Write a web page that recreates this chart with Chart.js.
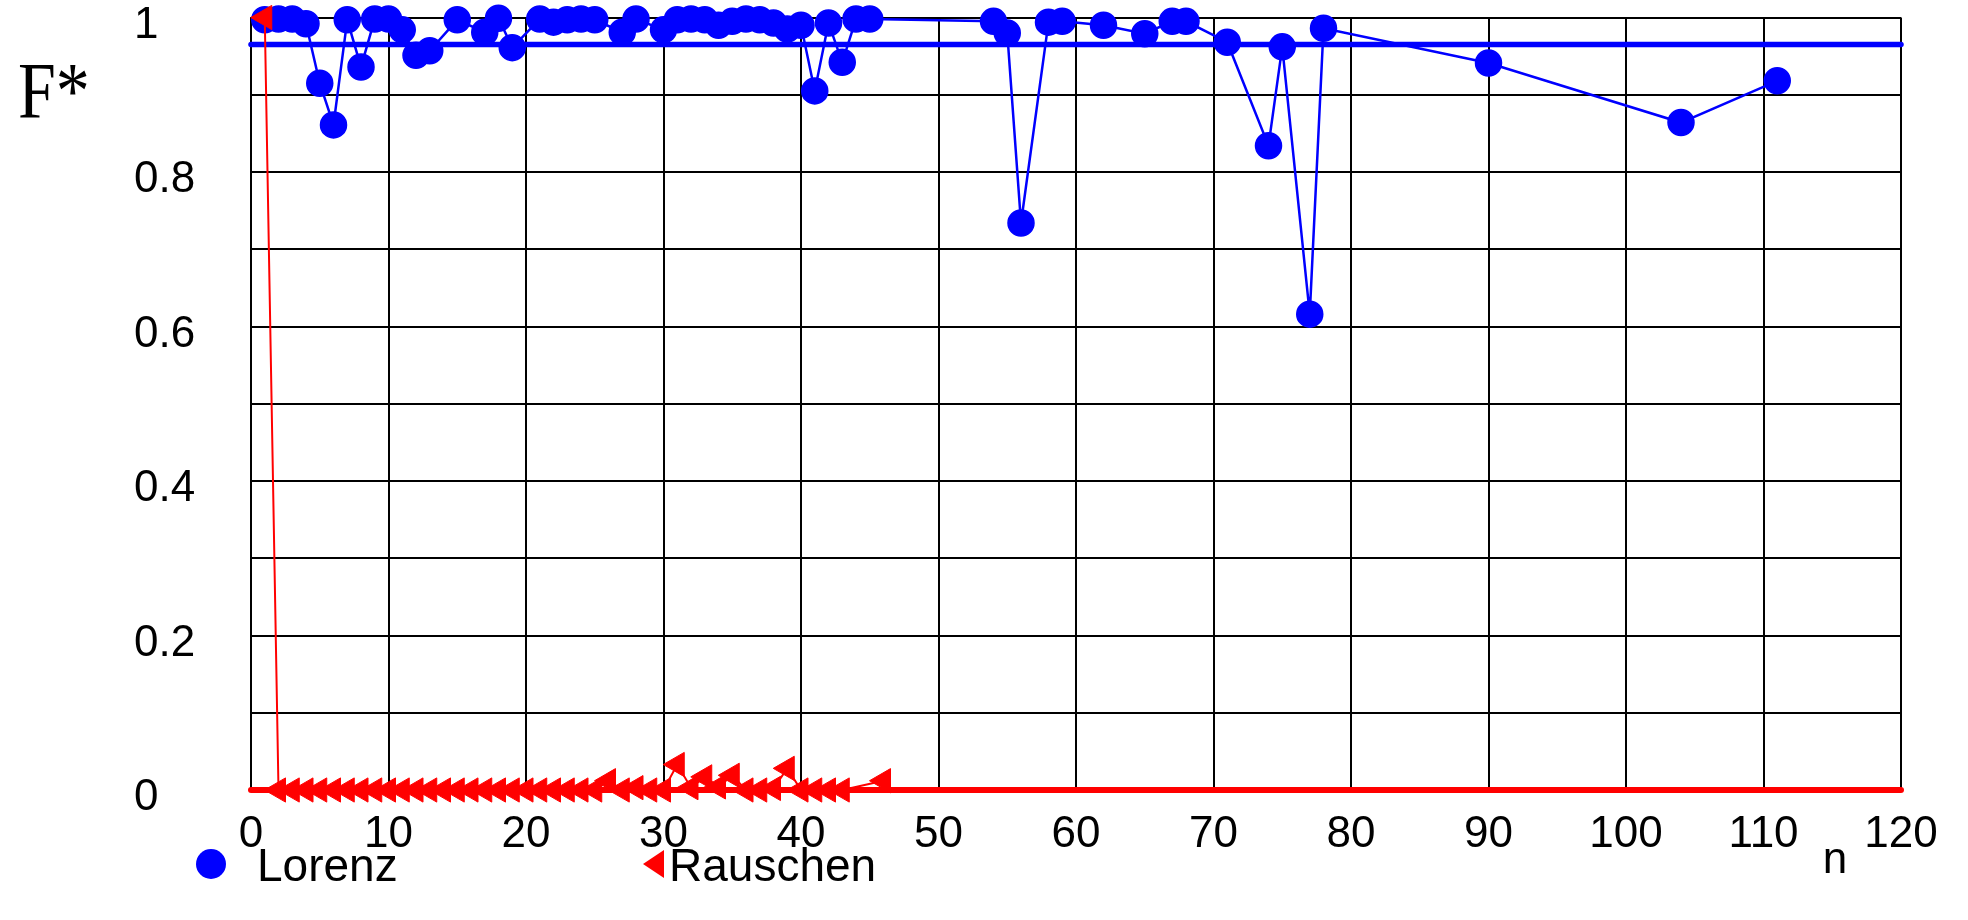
<!DOCTYPE html>
<html><head><meta charset="utf-8"><title>F* Lorenz / Rauschen</title>
<script src="https://cdn.jsdelivr.net/npm/chart.js@4.4.1/dist/chart.umd.min.js"></script>
<style>html,body{margin:0;background:#fff}canvas{display:block}</style>
</head><body>
<canvas id="c" width="1968" height="920"></canvas>
<script>
// values
const lorenzN=[1,2,3,4,5,6,7,8,9,10,11,12,13,15,17,18,19,21,22,23,24,25,27,28,30,31,32,33,34,35,36,37,38,39,40,41,42,43,44,45,54,55,56,58,59,62,65,67,68,71,74,75,77,78,90,104,111];
const lorenzF=[0.997,0.998,0.998,0.992,0.915,0.861,0.997,0.936,0.998,0.998,0.984,0.951,0.957,0.997,0.981,0.999,0.961,0.998,0.994,0.997,0.998,0.997,0.981,0.998,0.984,0.997,0.998,0.997,0.99,0.995,0.998,0.997,0.993,0.985,0.99,0.905,0.993,0.942,0.998,0.998,0.995,0.98,0.734,0.994,0.995,0.99,0.979,0.995,0.995,0.968,0.834,0.962,0.616,0.986,0.941,0.864,0.918];
const rauschenN=[1,2,3,4,5,6,7,8,9,10,11,12,13,14,15,16,17,18,19,20,21,22,23,24,25,26,27,28,29,30,31,32,33,34,35,36,37,38,39,40,41,42,43,46];
const rauschenF=[1,0,0,0,0,0,0,0,0,0,0,0,0,0,0,0,0,0,0,0,0,0,0,0,0,0.012,0,0.003,0,0,0.033,0.003,0.017,0.004,0.019,0,0,0.002,0.028,0,0,0,0,0.012];
const lorenzLevel=0.965, rauschenLevel=0;
const xRange=[0,120];
const xTickLabels=['0','10','20','30','40','50','60','70','80','90','100','110','120'];
const yTickLabels=['0','0.2','0.4','0.6','0.8','1'];
const seriesNames=['Lorenz','Rauschen'];
const yTitle='F*', xTitle='n';

const BLUE='#0000ff', RED='#ff0000';
const pts=(xs,ys)=>xs.map((x,i)=>({x,y:ys[i]}));
const level=v=>xRange.map(x=>({x,y:v}));

Chart.defaults.font.family="'Liberation Sans', Arial, sans-serif";
Chart.defaults.color='#000';

const extras={id:'extras',afterDraw(c){
  const x=c.ctx; x.save(); x.fillStyle='#000'; x.textBaseline='alphabetic';
  x.save(); x.translate(18,118); x.scale(0.85,1);
  x.font="80px 'Liberation Serif', 'Times New Roman', serif"; x.fillText(yTitle,0,0); x.restore();
  x.font="44px 'Liberation Sans', Arial"; x.textAlign='center'; x.fillText(xTitle,1835,873);
  // legend
  x.textAlign='left'; x.font="46px 'Liberation Sans', Arial";
  x.fillStyle=BLUE; x.beginPath(); x.arc(211,864,15,0,Math.PI*2); x.fill();
  x.fillStyle='#000'; x.fillText(seriesNames[0],257,881);
  x.fillStyle=RED; x.beginPath(); x.moveTo(643,864); x.lineTo(664,850); x.lineTo(664,878); x.closePath(); x.fill();
  x.fillStyle='#000'; x.fillText(seriesNames[1],669,881);
  x.restore();
}};

new Chart(document.getElementById('c'),{
  type:'line',
  data:{datasets:[
    {label:seriesNames[1],data:pts(rauschenN,rauschenF),order:0,clip:false,borderColor:RED,backgroundColor:RED,borderWidth:2,
      pointStyle:'triangle',rotation:-90,pointRadius:14,pointBorderWidth:1,tension:0},
    {label:seriesNames[0],data:pts(lorenzN,lorenzF),order:1,clip:false,borderColor:BLUE,backgroundColor:BLUE,borderWidth:2.5,
      pointStyle:'circle',pointRadius:13,pointBorderWidth:1.5,tension:0},
    {label:'ref L',data:level(lorenzLevel),order:2,clip:false,borderColor:BLUE,borderWidth:5.5,borderCapStyle:'round',pointRadius:0},
    {label:'ref R',data:level(rauschenLevel),order:3,clip:false,borderColor:RED,borderWidth:6,borderCapStyle:'round',pointRadius:0}
  ]},
  options:{
    responsive:false,animation:false,
    layout:{padding:{left:134,top:17.5,right:67,bottom:0}},
    plugins:{legend:{display:false},tooltip:{enabled:false}},
    scales:{
      x:{type:'linear',min:xRange[0],max:xRange[1],
        grid:{color:'#000',lineWidth:2,drawTicks:false},border:{color:'#000',width:2},
        ticks:{stepSize:10,padding:18,maxRotation:0,autoSkip:false,font:{size:44,lineHeight:1.2},
          callback:v=>xTickLabels[Math.round(v/10)]},
        afterFit(s){s.height=130;s.paddingLeft=0;s.paddingRight=0;}},
      y:{type:'linear',min:0,max:1,
        grid:{color:'#000',lineWidth:2,drawTicks:false},border:{color:'#000',width:2},
        ticks:{stepSize:0.1,padding:0,crossAlign:'far',labelOffset:8,autoSkip:false,font:{size:44,lineHeight:1.2},
          callback:v=>{const i=Math.round(v*10);return i%2?'':yTickLabels[i/2];}},
        afterFit(s){s.width=117;s.paddingTop=0;s.paddingBottom=0;}}
    }
  },
  plugins:[extras]
});
</script>
</body></html>
